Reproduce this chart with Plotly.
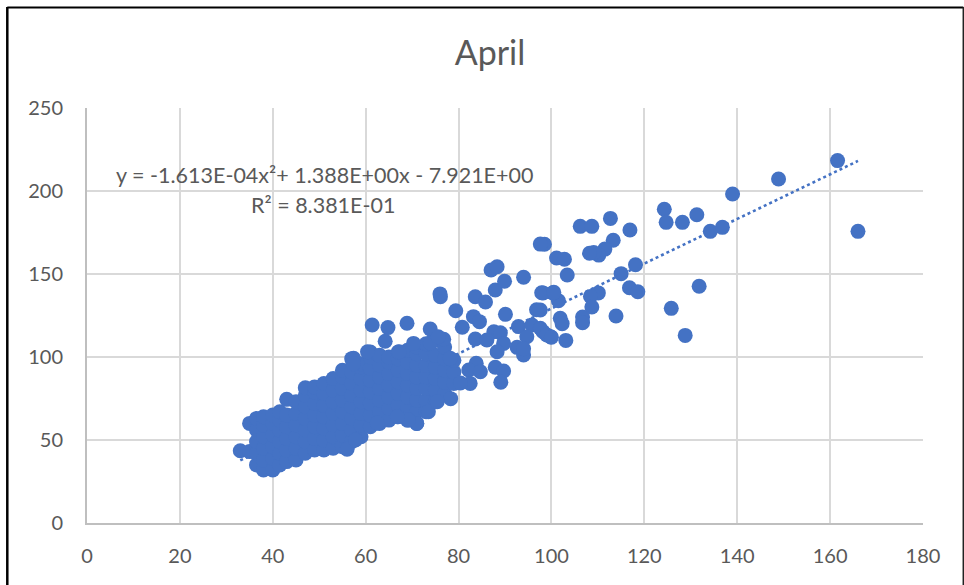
import plotly.graph_objects as go

outlier_x = [161.6,148.9,139,166,124.3,124.7,128.2,131.3,134.2,136.8,112.7,106.2,108.7,116.9,113.3,111.5,110.2,109.1,108.2,98.5,97.6,101.1,102.8,103.4,115,118.1,116.8,118.6,131.8,125.8,128.8,113.9,110.1,108.4,108.7,106.7,106.7,101.9,102.3,101.5,100.3,98.2,103.1,99.8,98.2,97.6,
 76.1,76,79.4,83.6,85.8,87.9,89.9,87,88.3,94,97.9,100.5,96.8,90.1,83.2,84.5,80.8,83.6,87.6,89,86.1,89.7,88.3,92.9,95.8,97.6,99,100,94.7,92.6,94,94,83.8,82.2,84.7,87.9,89.7,89.1,82.5,80.4,78.3,
 61.4,64.8,68.9,73.9,64.2,70.3,60.4,57.4,57.3,67.2,73.9,76.8,75.6,78.2,71,69.2,56,57.8,62.5,66.8,73.5,75.4]
outlier_y = [218.3,207.2,198.2,175.7,189,181.1,181.1,185.7,175.7,178.1,183.5,178.7,178.7,176.5,170.3,165,161.4,162.9,162.5,167.9,168,159.6,158.9,149.4,150.2,155.6,141.7,139.3,142.6,129.3,113,124.7,138.6,136.5,130.1,124.1,120.7,123.3,120.1,133.9,138.6,138.6,110,112.2,115.2,128.3,
 136.3,138,127.9,136.3,133.1,140.4,145.6,152.4,154.4,148,138.7,139,128.5,125.7,124.3,121.3,117.9,110.8,115.2,114.6,110.2,108.2,103.2,118.3,119.3,117.3,113.3,111.9,112.2,105.8,101.2,105,96.2,92.2,91.1,93.8,91.6,84.8,84.1,84.3,74.9,
 119.3,117.7,120.3,116.9,109.5,108.2,103.2,99.2,96,103.2,108.4,110.7,112.2,99.2,60,62,44.4,50,60.2,64,67,73]

cluster_x = [33, 35,35,
 36.5,36.5,36.5,36.5,36.5,
 38,38,38,38,38,38,
 40,40,40,40,40,40,
 41.5,41.5,41.5,41.5,41.5,41.5,
 43,43,43,43,43,43,
 45,45,45,45,45,45,
 47,47,47,47,47,47,47,
 49,49,49,49,49,49,49,
 51,51,51,51,51,51,51,
 53,53,53,53,53,53,53,
 55,55,55,55,55,55,55,55,
 57,57,57,57,57,57,57,57,
 59,59,59,59,59,59,59,59,
 61,61,61,61,61,61,61,61,
 63,63,63,63,63,63,63,
 65,65,65,65,65,65,65,
 67,67,67,67,67,67,67,
 69,69,69,69,69,69,69,
 71,71,71,71,71,71,71,71,
 73,73,73,73,73,73,73,
 75,75,75,75,75,75,
 77,77,77,77,77,
 79,79,79]
cluster_y = [43.5, 43,60,
 35,42,49,56,63,
 32,38,45,52,59,64,
 32,39,46,53,60,65,
 35,42,49,56,62,67,
 37,44,51,58,65,74.5,
 38,45,52,59,66,73,
 42,49,56,63,70,77,81.5,
 44,51,58,65,72,79,82,
 44,50,57,64,71,78,84,
 45,52,59,66,73,80,87,
 46,53,60,67,74,81,88,92,
 49,56,63,70,77,84,91,99,
 52,59,66,73,80,87,94,96,
 58,65,72,79,86,93,100,103,
 60,67,74,81,88,95,101,
 62,69,76,83,90,97,100,
 64,71,78,85,92,99,103,
 62,69,76,83,90,97,104,
 60,67,74,81,88,95,102,106,
 67,74,81,88,95,102,108,
 73,80,87,94,101,110,
 78,85,92,99,106,
 84,91,98]

trend_x = [33,60,90,120,150,166]
trend_y = [37.7,74.8,115.7,156.3,196.6,218.1]

x_ticks = [0,20,40,60,80,100,120,140,160,180]
y_ticks = [0,50,100,150,200,250]
title_text = "April"
equation_text = "y = -1.613E-04x²+ 1.388E+00x - 7.921E+00"
r2_text = "R² = 8.381E-01"

BLUE = "#4472C4"
GREY = "#595959"
FONT = "Lato"

fig = go.Figure()
fig.add_trace(go.Scatter(x=trend_x, y=trend_y, mode="lines", line=dict(color=BLUE, width=2.6, dash="dot"),
                         showlegend=False, hoverinfo="skip"))
fig.add_trace(go.Scatter(x=cluster_x + outlier_x, y=cluster_y + outlier_y, mode="markers",
                         marker=dict(color=BLUE, size=15, line=dict(width=0)), showlegend=False))

W, H = 964, 585
L, R, T, B = 86.7, 922.7, 108, 523
px = lambda v: (v - L) / (R - L)
py = lambda v: (B - v) / (B - T)

fig.update_layout(
    width=W, height=H, autosize=False,
    margin=dict(l=L, r=W - R, t=T, b=H - B, pad=0),
    paper_bgcolor="white", plot_bgcolor="white",
    font=dict(family=FONT, color=GREY, size=20),
    title=dict(text=title_text, x=490 / W, xanchor="center", y=1 - 53 / H, yanchor="middle",
               font=dict(family=FONT, size=34, color=GREY)),
    shapes=[
        dict(type="line", xref="paper", yref="paper", x0=px(7), x1=px(7), y0=py(7), y1=py(585), line=dict(color="#000", width=2.5)),
        dict(type="line", xref="paper", yref="paper", x0=px(7), x1=px(963), y0=py(7.5), y1=py(7.5), line=dict(color="#000", width=2)),
        dict(type="line", xref="paper", yref="paper", x0=px(963), x1=px(963), y0=py(7), y1=py(585), line=dict(color="#222", width=1.5)),
    ],
    annotations=[
        dict(text=equation_text, xref="paper", yref="paper", x=px(324), y=py(175), xanchor="center", yanchor="middle",
             showarrow=False, font=dict(family=FONT, size=21.5, color=GREY)),
        dict(text=r2_text, xref="paper", yref="paper", x=px(323), y=py(205), xanchor="center", yanchor="middle",
             showarrow=False, font=dict(family=FONT, size=21.5, color=GREY)),
    ],
)
fig.update_xaxes(range=[0, 180], tickvals=x_ticks, showgrid=True, gridcolor="#D9D9D9", gridwidth=2,
                 zeroline=False, showline=True, linecolor="#BFBFBF", linewidth=2, ticks="", ticklabelstandoff=14,
                 tickfont=dict(family=FONT, size=20, color=GREY), mirror=False)
fig.update_yaxes(range=[0, 250], tickvals=y_ticks, showgrid=True, gridcolor="#D9D9D9", gridwidth=2,
                 zeroline=False, showline=True, linecolor="#BFBFBF", linewidth=2, ticks="", ticklabelstandoff=18,
                 tickfont=dict(family=FONT, size=20, color=GREY), mirror=False)

fig.write_html("out.html", config=dict(displayModeBar=False),
               post_script="document.documentElement.style.overflow='hidden';document.body.style.margin='0';")
